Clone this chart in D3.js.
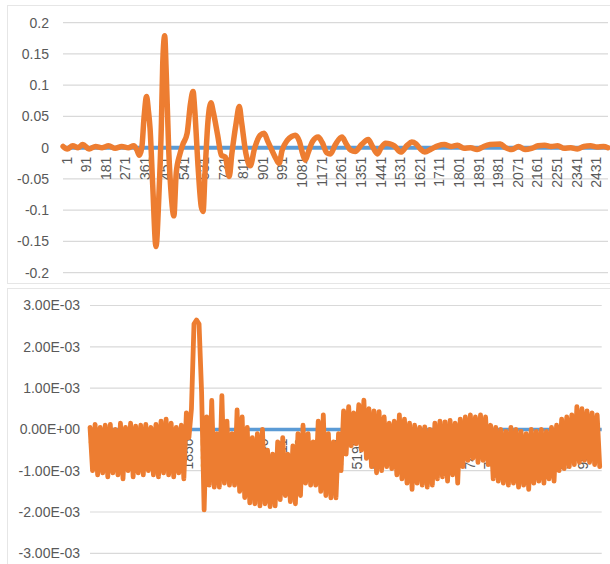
<!DOCTYPE html>
<html>
<head>
<meta charset="utf-8">
<script src="https://cdn.jsdelivr.net/npm/d3@7"></script>
<style>
  body { margin: 0; background: #fff; }
  text { font-family: "Liberation Sans", Arial, sans-serif; fill: #595959; }
</style>
</head>
<body>
<div id="chart"></div>
<script>
// ---- top panel data (category index, value) ----
const topCount = 2500;
const topIdx = [1, 20, 45, 70, 91, 120, 150, 180, 210, 240, 270, 300, 325, 340, 350, 362, 372, 384, 392, 400,
  412, 427, 440, 452, 458, 467, 474, 485, 498, 509, 520, 537, 550, 570, 585, 597, 605, 620, 635, 643,
  652, 665, 679, 690, 710, 727, 745, 763, 775, 795, 809, 820, 840, 859, 880, 905, 923, 940, 960, 978,
  992, 1005, 1030, 1050, 1066, 1085, 1100, 1112, 1125, 1145, 1171, 1190, 1210, 1227, 1250, 1280, 1300, 1320, 1341, 1370,
  1401, 1420, 1443, 1460, 1480, 1500, 1520, 1550, 1580, 1600, 1620, 1640, 1660, 1690, 1720, 1750, 1780, 1810, 1840, 1870,
  1900, 1930, 1960, 2007, 2030, 2060, 2090, 2120, 2150, 2180, 2210, 2240, 2270, 2300, 2330, 2360, 2390, 2420, 2450, 2480, 2500];
const topVal = [0.002, -0.002, 0.003, 0.000, 0.005, -0.002, 0.002, 0.000, 0.003, -0.001, 0.002, 0.000, 0.003, -0.004, -0.012, 0.000, 0.047, 0.082, 0.060, 0.030,
  -0.060, -0.158, -0.080, 0.040, 0.135, 0.179, 0.120, 0.000, -0.080, -0.109, -0.040, -0.010, 0.005, 0.023, 0.070, 0.090, 0.060, -0.030, -0.095, -0.102,
  -0.040, 0.040, 0.072, 0.057, 0.020, -0.012, -0.015, -0.046, -0.010, 0.040, 0.066, 0.040, -0.010, -0.029, 0.000, 0.020, 0.023, 0.010, -0.005, -0.018,
  -0.025, -0.005, 0.012, 0.018, 0.020, 0.010, -0.010, -0.020, -0.008, 0.010, 0.017, 0.008, -0.008, -0.010, 0.005, 0.017, 0.006, -0.004, -0.006, 0.005,
  0.013, 0.002, -0.010, 0.000, 0.007, 0.006, 0.003, -0.007, 0.004, 0.009, 0.006, -0.002, -0.007, -0.002, 0.003, 0.005, 0.002, 0.004, -0.001, 0.000,
  -0.003, 0.002, 0.005, 0.006, 0.000, -0.003, 0.002, -0.003, -0.001, 0.003, 0.004, 0.002, 0.003, -0.001, 0.000, -0.002, 0.002, 0.003, 0.001, 0.002, 0.000];
const topXTicks = [1, 91, 181, 271, 361, 451, 541, 631, 721, 811, 901, 991, 1081, 1171, 1261, 1351, 1441,
  1531, 1621, 1711, 1801, 1891, 1981, 2071, 2161, 2251, 2341, 2431];
const topYTicks = [0.2, 0.15, 0.1, 0.05, 0, -0.05, -0.1, -0.15, -0.2];
const topYLabels = ["0.2", "0.15", "0.1", "0.05", "0", "-0.05", "-0.1", "-0.15", "-0.2"];

// ---- bottom panel data: one reading every 50 categories, in units of 1E-03 ----
const bottomCount = 10090;
const bottomStep = 50;
const bottomVal = [
  0.05, -1.0, 0.12, -1.1, 0.05, -1.05, 0.1, -1.15, 0.12, -1.05, 0.0, -1.1, 0.15, -1.2, 0.05, -1.0, 0.15, -1.15, 0.08, -1.05,
  0.1, -1.1, 0.12, -1.0, 0.05, -1.1, 0.12, -1.15, 0.2, -1.05, 0.25, -1.1, 0.15, -1.15, 0.05, -1.05, 0.1, -1.2, 0.4, -0.2,
  0.5, 2.55, 2.65, 2.55, 0.9, -1.95, 0.3, -1.35, 0.7, -1.4, -0.1, -1.4, 0.82, -1.3, 0.2, -1.35, -0.1, -1.35, 0.47, -1.5,
  0.3, -1.65, 0.05, -1.78, -0.2, -1.8, -0.1, -1.85, 0.0, -1.8, -0.5, -1.87, -0.6, -1.85, -0.3, -1.7, -0.2, -1.6, -0.6, -1.75,
  -0.4, -1.8, -0.1, -1.6, 0.1, -1.3, -0.1, -1.35, -0.3, -1.35, 0.2, -1.5, 0.35, -1.6, -0.1, -1.66, -0.3, -1.66, -0.1, -1.0,
  0.45, -0.6, 0.55, -0.4, 0.4, -0.35, 0.6, -0.5, 0.71, -0.7, 0.5, -0.9, 0.45, -1.05, 0.43, -1.0, 0.3, -0.9, 0.15, -0.95,
  0.2, -1.1, 0.35, -1.2, 0.25, -1.3, 0.15, -1.45, 0.1, -1.3, 0.05, -1.35, 0.06, -1.4, 0.0, -1.35, 0.15, -1.2, 0.2, -1.15,
  0.18, -1.25, 0.22, -1.1, 0.15, -1.3, 0.25, -0.9, 0.3, -0.75, 0.35, -0.7, 0.3, -0.8, 0.35, -0.75, 0.3, -0.85, 0.1, -1.2,
  0.05, -1.25, 0.0, -1.3, -0.05, -1.35, 0.05, -1.3, 0.0, -1.4, -0.05, -1.35, -0.1, -1.45, 0.0, -1.3, -0.05, -1.25, 0.0, -1.3,
  -0.05, -1.2, 0.05, -1.25, 0.1, -1.0, 0.25, -0.95, 0.3, -0.9, 0.35, -0.85, 0.55, -0.8, 0.5, -0.75, 0.45, -0.8, 0.4, -0.85,
  0.35, -0.9];
const bottomXTicks = [1, 372, 743, 1114, 1485, 1856, 2227, 2598, 2969, 3340, 3711, 4082, 4453, 4824, 5195,
  5566, 5937, 6308, 6679, 7050, 7421, 7792, 8163, 8534, 8905, 9276, 9647];
const bottomYTicks = [3, 2, 1, 0, -1, -2, -3];
const bottomYLabels = ["3.00E-03", "2.00E-03", "1.00E-03", "0.00E+00", "-1.00E-03", "-2.00E-03", "-3.00E-03"];
const bottomUnit = 1e-3;

const baseline = [0, 0]; // the blue series sits at zero from first to last category

const svg = d3.select("#chart").append("svg")
  .attr("width", 610)
  .attr("height", 564);

function drawPanel(p) {
  const g = svg.append("g");

  // faint chart area border
  g.append("rect")
    .attr("x", p.box[0]).attr("y", p.box[1])
    .attr("width", p.box[2]).attr("height", p.box[3])
    .attr("fill", "none").attr("stroke", "#e6e6e6");

  const x = d3.scaleLinear().domain([0.5, p.count + 0.5]).range([p.left, p.right]);
  const y = d3.scaleLinear().domain([d3.min(p.yTicks), d3.max(p.yTicks)]).range([p.bottom, p.top]);

  // gridlines
  g.selectAll(".grid").data(p.yTicks).enter().append("line")
    .attr("x1", p.left).attr("x2", p.right)
    .attr("y1", d => y(d)).attr("y2", d => y(d))
    .attr("stroke", "#d9d9d9").attr("stroke-width", 1.2);

  // y labels
  g.selectAll(".ylab").data(p.yTicks).enter().append("text")
    .attr("x", p.labelRight)
    .attr("y", d => y(d))
    .attr("dy", "0.35em")
    .attr("text-anchor", "end")
    .style("font-size", "14px")
    .text((d, i) => p.yLabels[i]);

  const line = d3.line().x(d => x(d[0])).y(d => y(d[1])).curve(p.curve);

  // zero series
  g.append("path")
    .datum(baseline.map((v, i) => [i === 0 ? 1 : p.count, v]))
    .attr("d", line)
    .attr("fill", "none")
    .attr("stroke", "#5b9bd5")
    .attr("stroke-width", p.blueWidth);

  // x labels, rotated, hanging below the zero line
  g.selectAll(".xlab").data(p.xTicks).enter().append("text")
    .attr("transform", d => `translate(${x(d)},${y(0) + 9}) rotate(-90)`)
    .attr("dy", "8.5px")
    .attr("text-anchor", "end")
    .style("font-size", "14px")
    .text(d => d);

  // measured series
  g.append("path")
    .datum(p.series)
    .attr("d", line)
    .attr("fill", "none")
    .attr("stroke", "#ed7d31")
    .attr("stroke-width", p.orangeWidth)
    .attr("stroke-linejoin", "round")
    .attr("stroke-linecap", "round");
}

drawPanel({
  box: [7.5, 5.5, 610, 278],
  count: topCount, left: 63, right: 608, top: 22.7, bottom: 272.7, labelRight: 49,
  yTicks: topYTicks, yLabels: topYLabels, xTicks: topXTicks,
  series: topIdx.map((d, i) => [d, topVal[i]]),
  curve: d3.curveMonotoneX,
  blueWidth: 4, orangeWidth: 5.5
});

drawPanel({
  box: [7.5, 288.5, 610, 280],
  count: bottomCount, left: 90, right: 601.7, top: 305.5, bottom: 553.3, labelRight: 80,
  yTicks: bottomYTicks, yLabels: bottomYLabels, xTicks: bottomXTicks,
  series: bottomVal.map((v, j) => [1 + j * bottomStep, v]),
  curve: d3.curveLinear,
  blueWidth: 3.5, orangeWidth: 4.8
});
</script>
</body>
</html>
